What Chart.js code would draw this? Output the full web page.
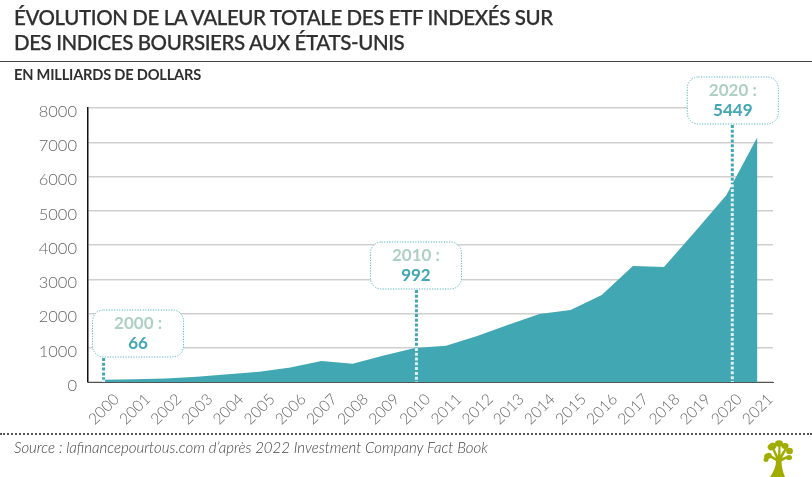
<!DOCTYPE html>
<html><head><meta charset="utf-8">
<script src="https://cdn.jsdelivr.net/npm/chart.js@4"></script>
<style>
html,body{margin:0;padding:0;background:#fff;width:812px;height:477px;overflow:hidden}
#wrap{position:relative;width:812px;height:477px}
canvas{position:absolute;left:0;top:0}
.t{position:absolute;white-space:nowrap;color:#2f2f2f}
#title{left:14px;top:5px;font:500 20.5px/24.5px "Lato";letter-spacing:-.4px;-webkit-text-stroke:.25px #2f2f2f}
#rule{position:absolute;left:0;top:61px;width:812px;height:1px;background:#444}
#sub{left:14px;top:66px;font:700 14.6px/17px "Lato";letter-spacing:-.2px}
#dots{position:absolute;left:0;top:433px;width:812px;border-top:2px dotted #555}
#src{left:14px;top:438px;font:italic 300 15px/18px "Lato";color:#444}
#tree{position:absolute;left:763px;top:440px}
</style></head><body>
<div id="wrap">
<canvas id="c" width="812" height="477"></canvas>
<div class="t" id="title">ÉVOLUTION DE LA VALEUR TOTALE DES ETF INDEXÉS SUR<br>DES INDICES BOURSIERS AUX ÉTATS-UNIS</div>
<div id="rule"></div>
<div class="t" id="sub">EN MILLIARDS DE DOLLARS</div>
<div id="dots"></div>
<div class="t" id="src">Source : lafinancepourtous.com d’après 2022 Investment Company Fact Book</div>
<svg id="tree" width="30" height="37" viewBox="0 0 30 37">
<g fill="#a0ad00">
<path d="M7 37C11 31 13 26 13 21L7 17.5L8.5 15.5L13 18L9 9L11 8L15 16L15.5 5L17.5 5L17.5 15L22 8L24 9L19 18L24 16L25 18L18.5 21.5C18.5 27 20 32 22 37Z"/>
<ellipse cx="5" cy="16" rx="4" ry="3" transform="rotate(-20 5 16)"/>
<ellipse cx="3" cy="19.5" rx="2.5" ry="2.5"/>
<ellipse cx="9" cy="6.5" rx="4.5" ry="3.6" transform="rotate(-30 9 6.5)"/>
<ellipse cx="16" cy="3.5" rx="4" ry="3.2"/>
<ellipse cx="22" cy="6" rx="3.6" ry="3"/>
<ellipse cx="26.5" cy="11" rx="3.4" ry="3.2"/>
<ellipse cx="26" cy="17.5" rx="3" ry="2.6"/>
</g>
</svg>
</div>
<script>
const years=["2000","2001","2002","2003","2004","2005","2006","2007","2008","2009","2010","2011","2012","2013","2014","2015","2016","2017","2018","2019","2020","2021"];
const values=[66,83,102,151,228,296,423,613,530,777,992,1060,1340,1675,1985,2100,2540,3390,3360,4396,5449,7150];
const yTicks=[0,1000,2000,3000,4000,5000,6000,7000,8000];
const calloutYears=["2000","2010","2020"];
const calloutValues=["66","992","5449"];
const TEAL="#41a7b3";
const callouts={id:"callouts",afterDatasetsDraw(ch){
 const ctx=ch.ctx,xs=ch.scales.x,ys=ch.scales.y;
 const dx=[0,1.5,6], bx=[-11,-46,-45], top=[310,242,77], h=47, bw=91;
 calloutYears.forEach((yr,i)=>{
  const k=years.indexOf(yr);
  const x0=xs.getPixelForValue(k), px=x0+dx[i];
  const step=xs.getPixelForValue(k+1)-x0, f=dx[i]/step;
  const py=ys.getPixelForValue(values[k]+(values[k+1]-values[k])*f);
  const base=ys.getPixelForValue(0);
  const bl=px+bx[i];
  ctx.save();
  ctx.lineWidth=3;ctx.setLineDash([3,1.8]);
  ctx.strokeStyle=TEAL;ctx.beginPath();ctx.moveTo(px,top[i]+h+1);ctx.lineTo(px,py);ctx.stroke();
  ctx.strokeStyle="#dff0f2";ctx.beginPath();ctx.moveTo(px,py);ctx.lineTo(px,base);ctx.stroke();
  ctx.fillStyle="#fff";ctx.lineWidth=1;ctx.setLineDash([1.2,1.4]);ctx.strokeStyle="#55b5c0";
  ctx.beginPath();ctx.roundRect(bl,top[i],bw,h,11);ctx.fill();ctx.stroke();
  ctx.setLineDash([]);
  ctx.textAlign="center";ctx.textBaseline="middle";
  ctx.font='700 17px "Lato"';ctx.fillStyle="#aed0c4";
  ctx.fillText(yr+" :",bl+bw/2,top[i]+14);
  ctx.fillStyle=TEAL;ctx.fillText(calloutValues[i],bl+bw/2,top[i]+34);
  ctx.restore();
 });
}};
new Chart(document.getElementById("c"),{
 type:"line",
 data:{labels:years,datasets:[{data:values,fill:"origin",backgroundColor:TEAL,borderColor:TEAL,borderWidth:0,pointRadius:0,tension:0}]},
 options:{responsive:false,animation:false,
  layout:{padding:{left:0,right:39,top:108,bottom:43}},
  plugins:{legend:{display:false},tooltip:{enabled:false}},
  scales:{
   x:{type:"category",offset:true,afterFit(s){s.height=52;},
      grid:{display:false,drawTicks:false},border:{display:true,color:"#555",width:1},
      ticks:{maxRotation:45,minRotation:45,autoSkip:false,color:"#666",font:{family:"Lato",size:15.5,weight:"300"},padding:8,labelOffset:13}},
   y:{min:0,max:8000,afterFit(s){s.width=88;},afterBuildTicks(s){s.ticks=yTicks.map(v=>({value:v}));},
      grid:{color:"#cfcfcf",lineWidth:1.5,drawTicks:false},border:{display:true,color:"#111",width:1.5},
      ticks:{color:"#666",font:{family:"Lato",size:16.5,weight:"300"},padding:11,labelOffset:3.5,callback:v=>String(v)}}
  }
 },
 plugins:[callouts]
});
</script></body></html>
